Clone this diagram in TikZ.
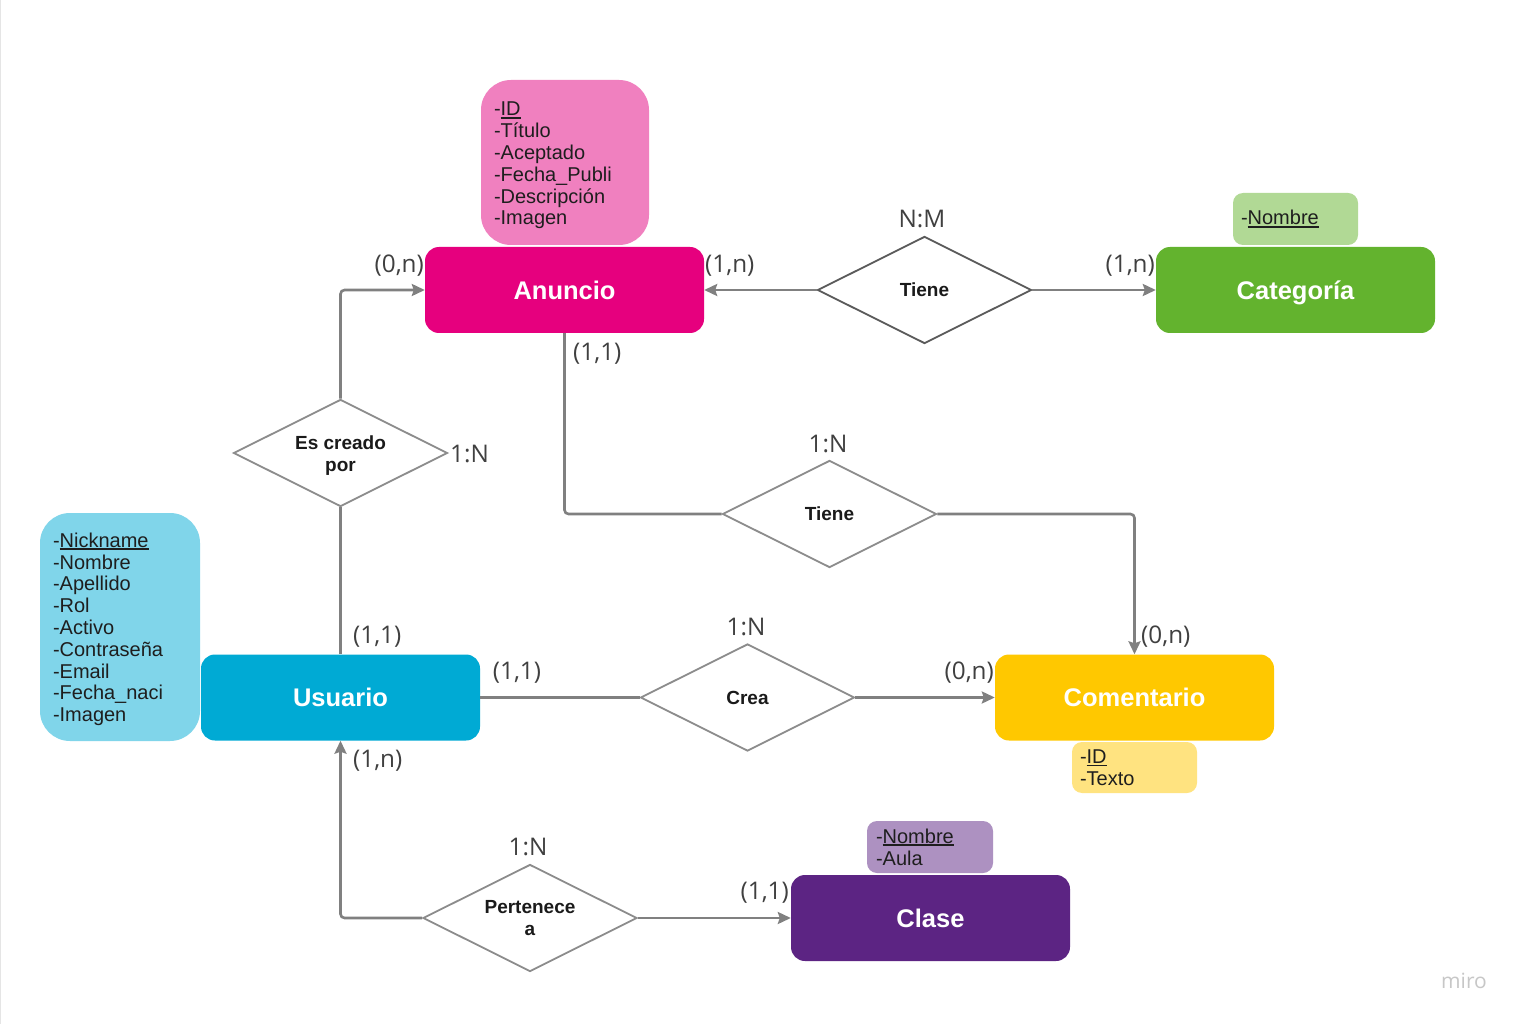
\documentclass[tikz,border=0pt]{standalone}
\usepackage{fontspec}
\setmainfont{Liberation Sans}
\newfontfamily\cardfont{Open Sans}
\usetikzlibrary{shapes.geometric,arrows.meta}

% key attribute: underlined with a visible rule
\newcommand\keyattr[1]{\setbox0\hbox{#1}\rlap{\color{attrtext}\rule[-2.6pt]{\wd0}{1.4pt}}\box0}
% extra room above the first attribute line
\newcommand\toproom[1]{\rule{0pt}{#1}}

\definecolor{anunciofill}{HTML}{E6007E}
\definecolor{anuncioattr}{HTML}{F080BF}
\definecolor{categoriafill}{HTML}{63B32E}
\definecolor{categoriaattr}{HTML}{B1D995}
\definecolor{usuariofill}{HTML}{00AAD4}
\definecolor{usuarioattr}{HTML}{80D5EA}
\definecolor{comentariofill}{HTML}{FFC800}
\definecolor{comentarioattr}{HTML}{FFE380}
\definecolor{clasefill}{HTML}{5C2483}
\definecolor{claseattr}{HTML}{AD91C1}
\definecolor{linkgray}{HTML}{808080}
\definecolor{relgray}{HTML}{8C8C8C}
\definecolor{relgraydark}{HTML}{5A5A5A}
\definecolor{cardtext}{HTML}{404040}
\definecolor{attrtext}{HTML}{1E1E1E}
\definecolor{reltext}{HTML}{1A1A1A}

\begin{document}
\begin{tikzpicture}[x=1pt,y=-1pt,
  entity/.style={rectangle, rounded corners=14pt, minimum width=279pt,
    minimum height=86pt, inner sep=0pt, text=white,
    text height=18.3pt, text depth=0pt,
    font=\fontsize{25.5}{30}\selectfont\bfseries},
  attrbox/.style={rectangle, inner ysep=0pt, align=left, text=attrtext,
    font=\fontsize{20}{21.8}\selectfont},
  relation/.style={diamond, shape aspect=2, draw=relgray, line width=1.8pt,
    minimum width=214pt, minimum height=107pt, inner sep=0pt, fill=white,
    align=center, text=reltext, font=\fontsize{19}{22}\selectfont\bfseries},
  card/.style={inner sep=0pt, text=cardtext, font=\cardfont\fontsize{24.3}{27}\selectfont},
  link/.style={draw=linkgray, line width=2.6pt, rounded corners=4pt},
  arrowlink/.style={link, -{Stealth[length=13pt,width=12pt,inset=2pt]}, linkgray},
]
\useasboundingbox (0,0) rectangle (1524,1024);
\fill[white] (0,0) rectangle (1524,1024);
\draw[black!10, line width=1pt] (0.5,0) -- (0.5,1024);

% attribute boxes
\node[attrbox, fill=anuncioattr, rounded corners=30pt, minimum width=168pt,
  minimum height=165pt, inner xsep=13pt, text width=142pt] (anuncioAttrs) at (565,162.5)
  {\toproom{20pt}-\keyattr{ID}\\-Título\\-Aceptado\\-Fecha\_Publi\\-Descripción\\-Imagen};
\node[attrbox, fill=categoriaattr, rounded corners=10pt, minimum width=125pt,
  minimum height=52pt, inner xsep=8pt, text width=109pt] (categoriaAttrs) at (1295.5,219)
  {-\keyattr{Nombre}};
\node[attrbox, fill=usuarioattr, rounded corners=30pt, minimum width=160pt,
  minimum height=228pt, inner xsep=13pt, text width=134pt] (usuarioAttrs) at (120,627)
  {\toproom{19pt}-\keyattr{Nickname}\\-Nombre\\-Apellido\\-Rol\\-Activo\\-Contraseña\\-Email\\-Fecha\_naci\\-Imagen};
\node[attrbox, fill=comentarioattr, rounded corners=10pt, minimum width=125pt,
  minimum height=51pt, inner xsep=8pt, text width=109pt] (comentarioAttrs) at (1134.5,767.5)
  {-\keyattr{ID}\\-Texto};
\node[attrbox, fill=claseattr, rounded corners=10pt, minimum width=126pt,
  minimum height=52pt, inner xsep=9pt, text width=108pt] (claseAttrs) at (930,847)
  {-\keyattr{Nombre}\\-Aula};

% entities
\node[entity, fill=anunciofill] (anuncio) at (564.5,290) {Anuncio};
\node[entity, fill=categoriafill] (categoria) at (1295.5,290) {Categoría};
\node[entity, fill=usuariofill] (usuario) at (340.5,697.5) {Usuario};
\node[entity, fill=comentariofill] (comentario) at (1134.5,697.5) {Comentario};
\node[entity, fill=clasefill] (clase) at (930.5,918) {Clase};

% relationships
\node[relation, draw=relgraydark] (tieneCat) at (924.5,290) {Tiene};
\node[relation] (creadoPor) at (340.5,453) {\rule{0pt}{18pt}Es creado\\por};
\node[relation] (tieneCom) at (829.5,514) {Tiene};
\node[relation] (crea) at (747.5,697.5) {Crea};
\node[relation] (pertenece) at (530,918) {Pertenece\\a};

% connectors
\draw[arrowlink] (tieneCat.west) -- (anuncio.east);
\draw[arrowlink] (tieneCat.east) -- (categoria.west);
\draw[arrowlink] (creadoPor.north) |- (anuncio.west);
\draw[link] (usuario.north) -- (creadoPor.south);
\draw[link] (anuncio.south) |- (tieneCom.west);
\draw[arrowlink] (tieneCom.east) -| (comentario.north);
\draw[link] (usuario.east) -- (crea.west);
\draw[arrowlink] (crea.east) -- (comentario.west);
\draw[arrowlink] (pertenece.west) -| (usuario.south);
\draw[arrowlink] (pertenece.east) -- (clase.west);

% cardinalities
\node[card, anchor=east] (cAnuW) at (424,266) {(0,n)};
\node[card, anchor=west] (cAnuE) at (705,266) {(1,n)};
\node[card] (cNM) at (922,219) {N:M};
\node[card, anchor=east] (cCat) at (1155,266) {(1,n)};
\node[card, anchor=west] (cAnuS) at (573,354) {(1,1)};
\node[card, anchor=west] (cCreado) at (450,454) {1:N};
\node[card] (cTieneCom) at (828,444) {1:N};
\node[card, anchor=west] (cUsuN) at (353,637) {(1,1)};
\node[card, anchor=west] (cComN) at (1141,637) {(0,n)};
\node[card] (cCrea) at (746,627) {1:N};
\node[card] (cUsuE) at (517,673) {(1,1)};
\node[card, anchor=east] (cComW) at (994,673) {(0,n)};
\node[card, anchor=west] (cUsuS) at (353,761) {(1,n)};
\node[card] (cPertenece) at (528,847) {1:N};
\node[card, anchor=east] (cClase) at (789,893) {(1,1)};

% watermark
\node[inner sep=0pt, text=black!22, font=\cardfont\fontsize{21}{24}\selectfont] (mark) at (1464,981) {miro};
\end{tikzpicture}
\end{document}
